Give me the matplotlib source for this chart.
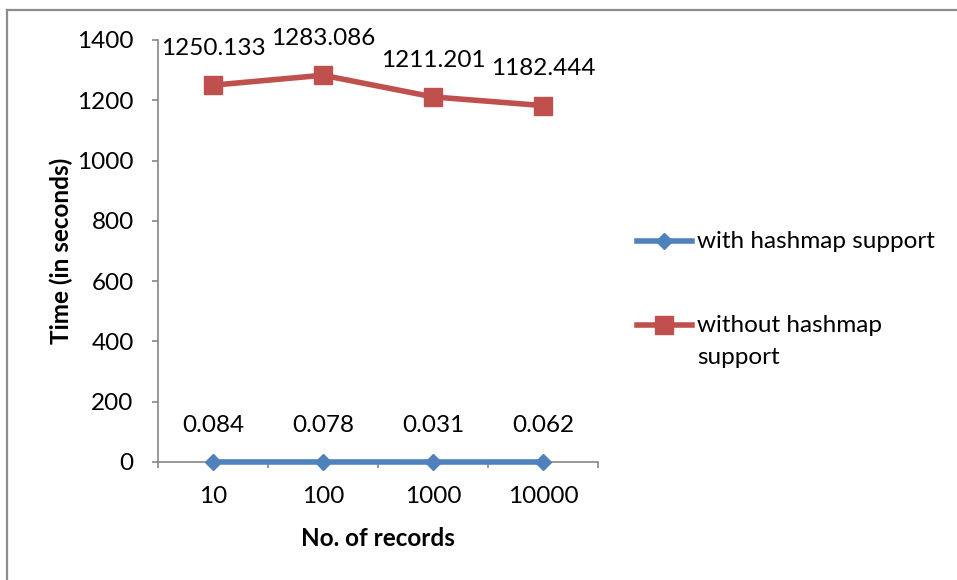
import matplotlib
matplotlib.use("Agg")
import matplotlib.pyplot as plt
from matplotlib.lines import Line2D
from matplotlib.ticker import FixedLocator

# Query time per number of records
records = ["10", "100", "1000", "10000"]
with_hashmap = [0.084, 0.078, 0.031, 0.062]
without_hashmap = [1250.133, 1283.086, 1211.201, 1182.444]
series_names = ["with hashmap support", "without hashmap\nsupport"]
y_ticks = [0, 200, 400, 600, 800, 1000, 1200, 1400]

BLUE = "#4F81BD"
RED = "#C0504D"
AXIS = "#868686"
FRAME = "#8C8C8C"
FS = 17.5

plt.rcParams["font.family"] = ["Lato", "DejaVu Sans"]
plt.rcParams["font.size"] = FS

W, H = 957, 580
fig = plt.figure(figsize=(W / 100, H / 100), dpi=100)
ax = fig.add_axes([158 / W, 1 - 462 / H, 440 / W, 422 / H])

xs = list(range(len(records)))
ax.plot(xs, with_hashmap, color=BLUE, lw=4, marker="D", ms=8.5,
        mec=BLUE, mew=1, label=series_names[0], zorder=3, clip_on=False)
ax.plot(xs, without_hashmap, color=RED, lw=4, marker="s", ms=13,
        mec=RED, mew=1, label=series_names[1], zorder=3, clip_on=False)

# Value labels above each point
for series in (with_hashmap, without_hashmap):
    for i, v in enumerate(series):
        ax.annotate(str(v), (i, v), xytext=(0, 26.5), textcoords="offset points",
                    ha="center", va="center", fontsize=FS, annotation_clip=False)

ax.set_xlim(-0.5, len(records) - 0.5)
ax.set_ylim(0, 1400)
ax.set_yticks(y_ticks)
ax.set_xticks(xs)
ax.set_xticklabels(records)
ax.xaxis.set_minor_locator(FixedLocator([i - 0.5 for i in range(len(records) + 1)]))

ax.tick_params(axis="x", which="major", length=0, pad=17)
ax.tick_params(axis="x", which="minor", length=4.5, width=1.2, color=AXIS, direction="out")
ax.tick_params(axis="y", which="major", length=4.5, width=1.2, color=AXIS, direction="out", pad=13)
ax.tick_params(labelsize=FS)

for side in ("top", "right"):
    ax.spines[side].set_visible(False)
for side in ("left", "bottom"):
    ax.spines[side].set_color(AXIS)
    ax.spines[side].set_linewidth(1.2)

ax.set_ylabel("Time (in seconds)", fontsize=FS, fontweight="bold")
ax.yaxis.label.set_va("center")
ax.yaxis.set_label_coords((61 - 158) / 440, 0.5)
ax.set_xlabel("No. of records", fontsize=FS, fontweight="bold")
ax.xaxis.label.set_va("center")
ax.xaxis.set_label_coords(0.5, -(538 - 462) / 422)

leg = fig.legend(loc="upper left", bbox_to_anchor=(637 / W, 1 - 231 / H),
                 frameon=False, handlelength=2.26, handletextpad=0.2,
                 handleheight=1.2, labelspacing=2.43, numpoints=1,
                 borderpad=0, borderaxespad=0, fontsize=FS)
leg.get_texts()[1].set_linespacing(1.65)
for column in leg._legend_handle_box.get_children():
    for item in column.get_children():
        item.align = "top"

# Chart area outline
fig.add_artist(Line2D([7 / W, 7 / W], [0, 1 - 10 / H], color=FRAME, lw=1.6))
fig.add_artist(Line2D([7 / W, 1], [1 - 10 / H, 1 - 10 / H], color=FRAME, lw=1.6))

fig.savefig("out.png", dpi=100)
